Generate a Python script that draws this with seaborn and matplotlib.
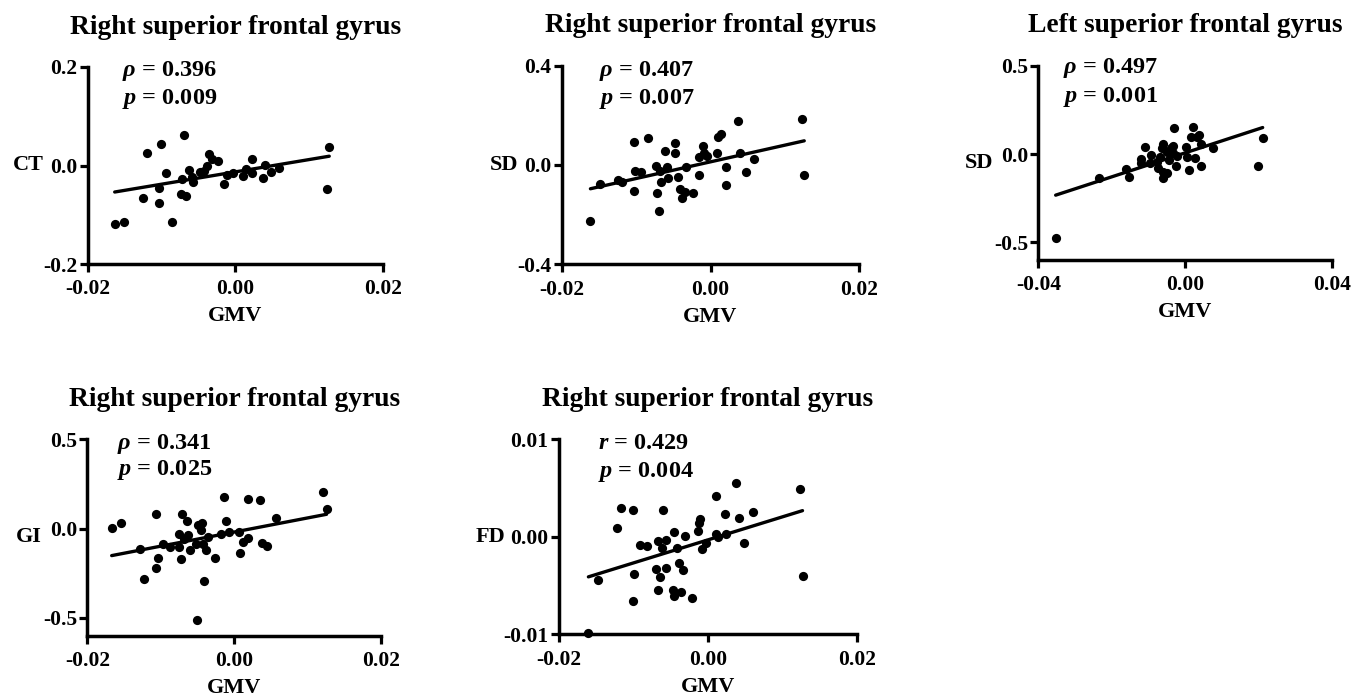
import matplotlib
matplotlib.use('Agg')
import matplotlib.pyplot as plt
import numpy as np
import pandas as pd
import seaborn as sns

# ---- data (GMV on x) ----
# right SFG, cortical thickness
ct_gmv = [-0.01638, -0.0151, -0.01195, -0.01253, -0.01014, -0.01036, -0.01036, -0.00937, -0.00855,
          -0.00697, -0.00733, -0.00674, -0.00719, -0.00629, -0.00584, -0.00575, -0.00484, -0.0043,
          -0.00385, -0.00357, -0.00312, -0.00235, -0.00158, -0.00109, -0.00032, 0.00095, 0.0014,
          0.00217, 0.00226, 0.00367, 0.00398, 0.00475, 0.00593, 0.01271, 0.01244]
ct_val = [-0.1186, -0.1139, 0.0244, -0.0664, 0.0441, -0.0447, -0.0753, -0.0156, -0.1139,
          0.061, -0.0576, -0.0624, -0.0271, -0.0088, -0.0224, -0.0339, -0.0136, -0.0102,
          -0.0014, 0.0224, 0.0136, 0.0095, -0.038, -0.0183, -0.0156, -0.0217, -0.0068,
          -0.0156, 0.0142, -0.0251, 0.0007, -0.0122, -0.0054, 0.0373, -0.0481]

# right SFG, sulcal depth
sd_r_gmv = [-0.01614, -0.01489, -0.01242, -0.01184, -0.01027, -0.01027, -0.01009, -0.00928, -0.00839,
            -0.00726, -0.00717, -0.0069, -0.00682, -0.00668, -0.00614, -0.00583, -0.0057, -0.00471,
            -0.00471, -0.00435, -0.00413, -0.00377, -0.00345, -0.00332, -0.00233, -0.00157, -0.00152,
            -0.00099, -0.00085, -0.00045, 0.00094, 0.00103, 0.00135, 0.00206, 0.00215, 0.00372,
            0.00395, 0.00471, 0.00583, 0.01224, 0.0126]
sd_r_val = [-0.2255, -0.0779, -0.0604, -0.0671, 0.094, -0.1047, -0.0228, -0.0295, 0.1101,
            -0.0027, -0.1114, -0.1839, -0.0228, -0.0671, 0.0564, -0.0067, -0.0537, 0.0872,
            0.047, -0.047, -0.098, -0.1342, -0.1074, -0.0067, -0.1114, -0.0403, 0.0336,
            0.0779, 0.047, 0.0362, 0.047, 0.1114, 0.1248, -0.0067, -0.0805, 0.1772,
            0.0497, -0.0295, 0.0228, 0.1866, -0.0403]

# left SFG, sulcal depth
sd_l_gmv = [-0.03527, -0.02336, -0.01618, -0.01527, -0.012, -0.012, -0.01091, -0.00927, -0.00955,
            -0.00773, -0.00745, -0.00682, -0.00636, -0.00591, -0.00591, -0.005, -0.00591, -0.00482,
            -0.00427, -0.00391, -0.00336, -0.00318, -0.00291, -0.00255, -0.00227, 0.00018, 0.00045,
            0.00109, 0.00155, 0.00209, 0.00273, 0.00318, 0.00391, 0.00427, 0.00427, 0.00755,
            0.02, 0.02118]
sd_l_val = [-0.4727, -0.1375, -0.0866, -0.1281, -0.0282, -0.0527, 0.0414, -0.0056, -0.0527,
            -0.0433, -0.081, -0.0188, 0.032, -0.0998, -0.1337, -0.1092, 0.0565, 0.0132,
            -0.0339, 0.032, 0.0452, 0.0038, 0.145, -0.0659, -0.0094, 0.0414, -0.0151,
            -0.0904, 0.0979, 0.1544, -0.0245, 0.0979, 0.1073, 0.0546, -0.0678, 0.0358,
            -0.0678, 0.0885]

# right SFG, gyrification index
gi_gmv = [-0.01668, -0.01541, -0.01286, -0.01227, -0.01068, -0.01059, -0.01041, -0.00968, -0.00877,
          -0.0075, -0.0075, -0.00727, -0.00705, -0.00682, -0.00645, -0.00623, -0.00605, -0.00523,
          -0.00509, -0.00491, -0.00455, -0.00441, -0.00423, -0.00409, -0.00377, -0.00355, -0.00264,
          -0.00182, -0.00136, -0.00114, -0.00068, 0.00068, 0.00077, 0.00114, 0.00182, 0.00195,
          0.0035, 0.00386, 0.00445, 0.00568, 0.01214, 0.01259]
gi_val = [0.0056, 0.0318, -0.1159, -0.2841, 0.0804, -0.2187, -0.1645, -0.0841, -0.1028,
          -0.028, -0.1028, -0.172, 0.0804, -0.0561, 0.043, -0.0374, -0.1215, -0.0841,
          -0.514, 0.0187, -0.0093, 0.0336, -0.0841, -0.2935, -0.1215, -0.0467, -0.1645,
          -0.028, 0.1776, 0.043, -0.0187, -0.0187, -0.1364, -0.0748, -0.0523, 0.1682,
          0.1589, -0.0804, -0.0972, 0.0598, 0.2056, 0.1121]

# right SFG, fractal dimension
fd_gmv = [-0.01605, -0.0148, -0.01224, -0.01166, -0.01009, -0.00991, -0.01012, -0.00909, -0.0082,
          -0.00699, -0.00676, -0.00672, -0.00649, -0.00618, -0.00605, -0.0056, -0.0056, -0.00461,
          -0.0047, -0.00461, -0.00416, -0.00385, -0.00358, -0.00336, -0.00313, -0.00215, -0.00139,
          -0.00125, -0.00103, -0.00072, -0.00027, 0.00107, 0.00112, 0.00143, 0.00224, 0.00242,
          0.00381, 0.00412, 0.00488, 0.00605, 0.0124, 0.01272]
fd_val = [-0.00991, -0.00444, 0.00092, 0.00297, 0.00274, -0.00383, -0.00656, -0.00079, -0.00092,
          -0.00335, -0.00041, -0.00547, -0.0041, -0.00113, 0.00274, -0.00034, -0.00315, 0.00051,
          -0.00547, -0.00609, -0.00113, -0.00267, -0.00571, -0.00342, 0.0001, -0.00632, 0.00058,
          0.00137, 0.00178, -0.00126, -0.00068, 0.00417, 0.00027, 0.0, 0.00232, 0.00024,
          0.00547, 0.00195, -0.00068, 0.00256, 0.00489, -0.004]

titles = ['Right superior frontal gyrus', 'Right superior frontal gyrus', 'Left superior frontal gyrus',
          'Right superior frontal gyrus', 'Right superior frontal gyrus']
ylabels = ['CT', 'SD', 'SD', 'GI', 'FD']
coef_names = [r'$\rho$', r'$\rho$', r'$\rho$', r'$\rho$', r'$r$']
coef_vals = ['0.396', '0.407', '0.497', '0.341', '0.429']
p_vals = ['0.009', '0.007', '0.001', '0.025', '0.004']

sns.set_style('ticks', {'axes.edgecolor': 'black', 'text.color': 'black', 'axes.labelcolor': 'black',
                        'xtick.color': 'black', 'ytick.color': 'black'})
plt.rcParams['font.family'] = ['Liberation Serif', 'DejaVu Serif']
plt.rcParams['font.weight'] = 'bold'
plt.rcParams['axes.unicode_minus'] = False
plt.rcParams['mathtext.fontset'] = 'custom'
plt.rcParams['mathtext.rm'] = 'Liberation Serif:bold'
plt.rcParams['mathtext.it'] = 'Liberation Serif:italic:bold'

W, H = 1364, 698
fig = plt.figure(figsize=(W / 100, H / 100), dpi=100)

# (left, top, right, bottom) of each plot box in pixels
boxes = [(88, 67, 383, 264), (561.7, 65.7, 859.3, 264.3), (1038.3, 65.7, 1331.7, 260),
         (87.3, 439.3, 381, 635.7), (559, 439.3, 856.7, 634.3)]
ylims = [(-0.2, 0.2), (-0.4, 0.4), (-0.6, 0.5), (-0.6, 0.5), (-0.01, 0.01)]
yticks = [[-0.2, 0.0, 0.2], [-0.4, 0.0, 0.4], [-0.5, 0.0, 0.5], [-0.5, 0.0, 0.5], [-0.01, 0.0, 0.01]]
yfmt = ['%.1f', '%.1f', '%.1f', '%.1f', '%.2f']
xlims = [(-0.02, 0.02), (-0.02, 0.02), (-0.04, 0.04), (-0.02, 0.02), (-0.02, 0.02)]
ylab_x = [-0.15, -0.147, -0.153, -0.155, -0.181]
# stat text: left x, line1 y, line2 y (pixels)
stat_pos = [(121.7, 71, 99.3), (599.3, 70.7, 99.3), (1063.3, 68.3, 96.7),
            (116.7, 444, 470), (598.3, 443.3, 471.7)]

xs = [ct_gmv, sd_r_gmv, sd_l_gmv, gi_gmv, fd_gmv]
ys = [ct_val, sd_r_val, sd_l_val, gi_val, fd_val]

for i in range(5):
    l, t, r, b = boxes[i]
    ax = fig.add_axes([l / W, 1 - b / H, (r - l) / W, (b - t) / H])
    df = pd.DataFrame({'GMV': xs[i], 'y': ys[i]})
    sns.regplot(data=df, x='GMV', y='y', ax=ax, ci=None, color='black',
                scatter_kws={'s': 44, 'alpha': 1, 'linewidths': 0, 'clip_on': False},
                line_kws={'lw': 2.4})
    ax.set_xlim(xlims[i])
    ax.set_ylim(ylims[i])
    ax.set_xticks([xlims[i][0], 0.0, xlims[i][1]])
    ax.set_xticklabels(['%.2f' % v for v in [xlims[i][0], 0.0, xlims[i][1]]])
    ax.set_yticks(yticks[i])
    ax.set_yticklabels([yfmt[i] % v for v in yticks[i]])
    sns.despine(ax=ax)
    for s in ['left', 'bottom']:
        ax.spines[s].set_linewidth(2.5)
        ax.spines[s].set_capstyle('projecting')
    ax.tick_params(axis='both', width=2.3, length=5.5, labelsize=15.5, color='black')
    ax.tick_params(axis='x', pad=5.5)
    ax.tick_params(axis='y', pad=2)
    ax.set_xlabel('GMV', fontsize=16, fontweight='bold', labelpad=5)
    ax.set_ylabel(ylabels[i], fontsize=16, fontweight='bold', rotation=0, ha='right', va='center')
    ax.yaxis.set_label_coords(ylab_x[i], 0.5)
    ax.set_title(titles[i], fontsize=19.8, fontweight='bold', pad=24)

    sx, sy1, sy2 = stat_pos[i]
    fig.text(sx / W, 1 - sy1 / H, coef_names[i] + ' = ' + coef_vals[i], fontsize=17.5,
             fontweight='bold', ha='left', va='center')
    fig.text(sx / W, 1 - sy2 / H, r'$p$ = ' + p_vals[i], fontsize=17.5,
             fontweight='bold', ha='left', va='center')

fig.savefig('out.png', dpi=100)
